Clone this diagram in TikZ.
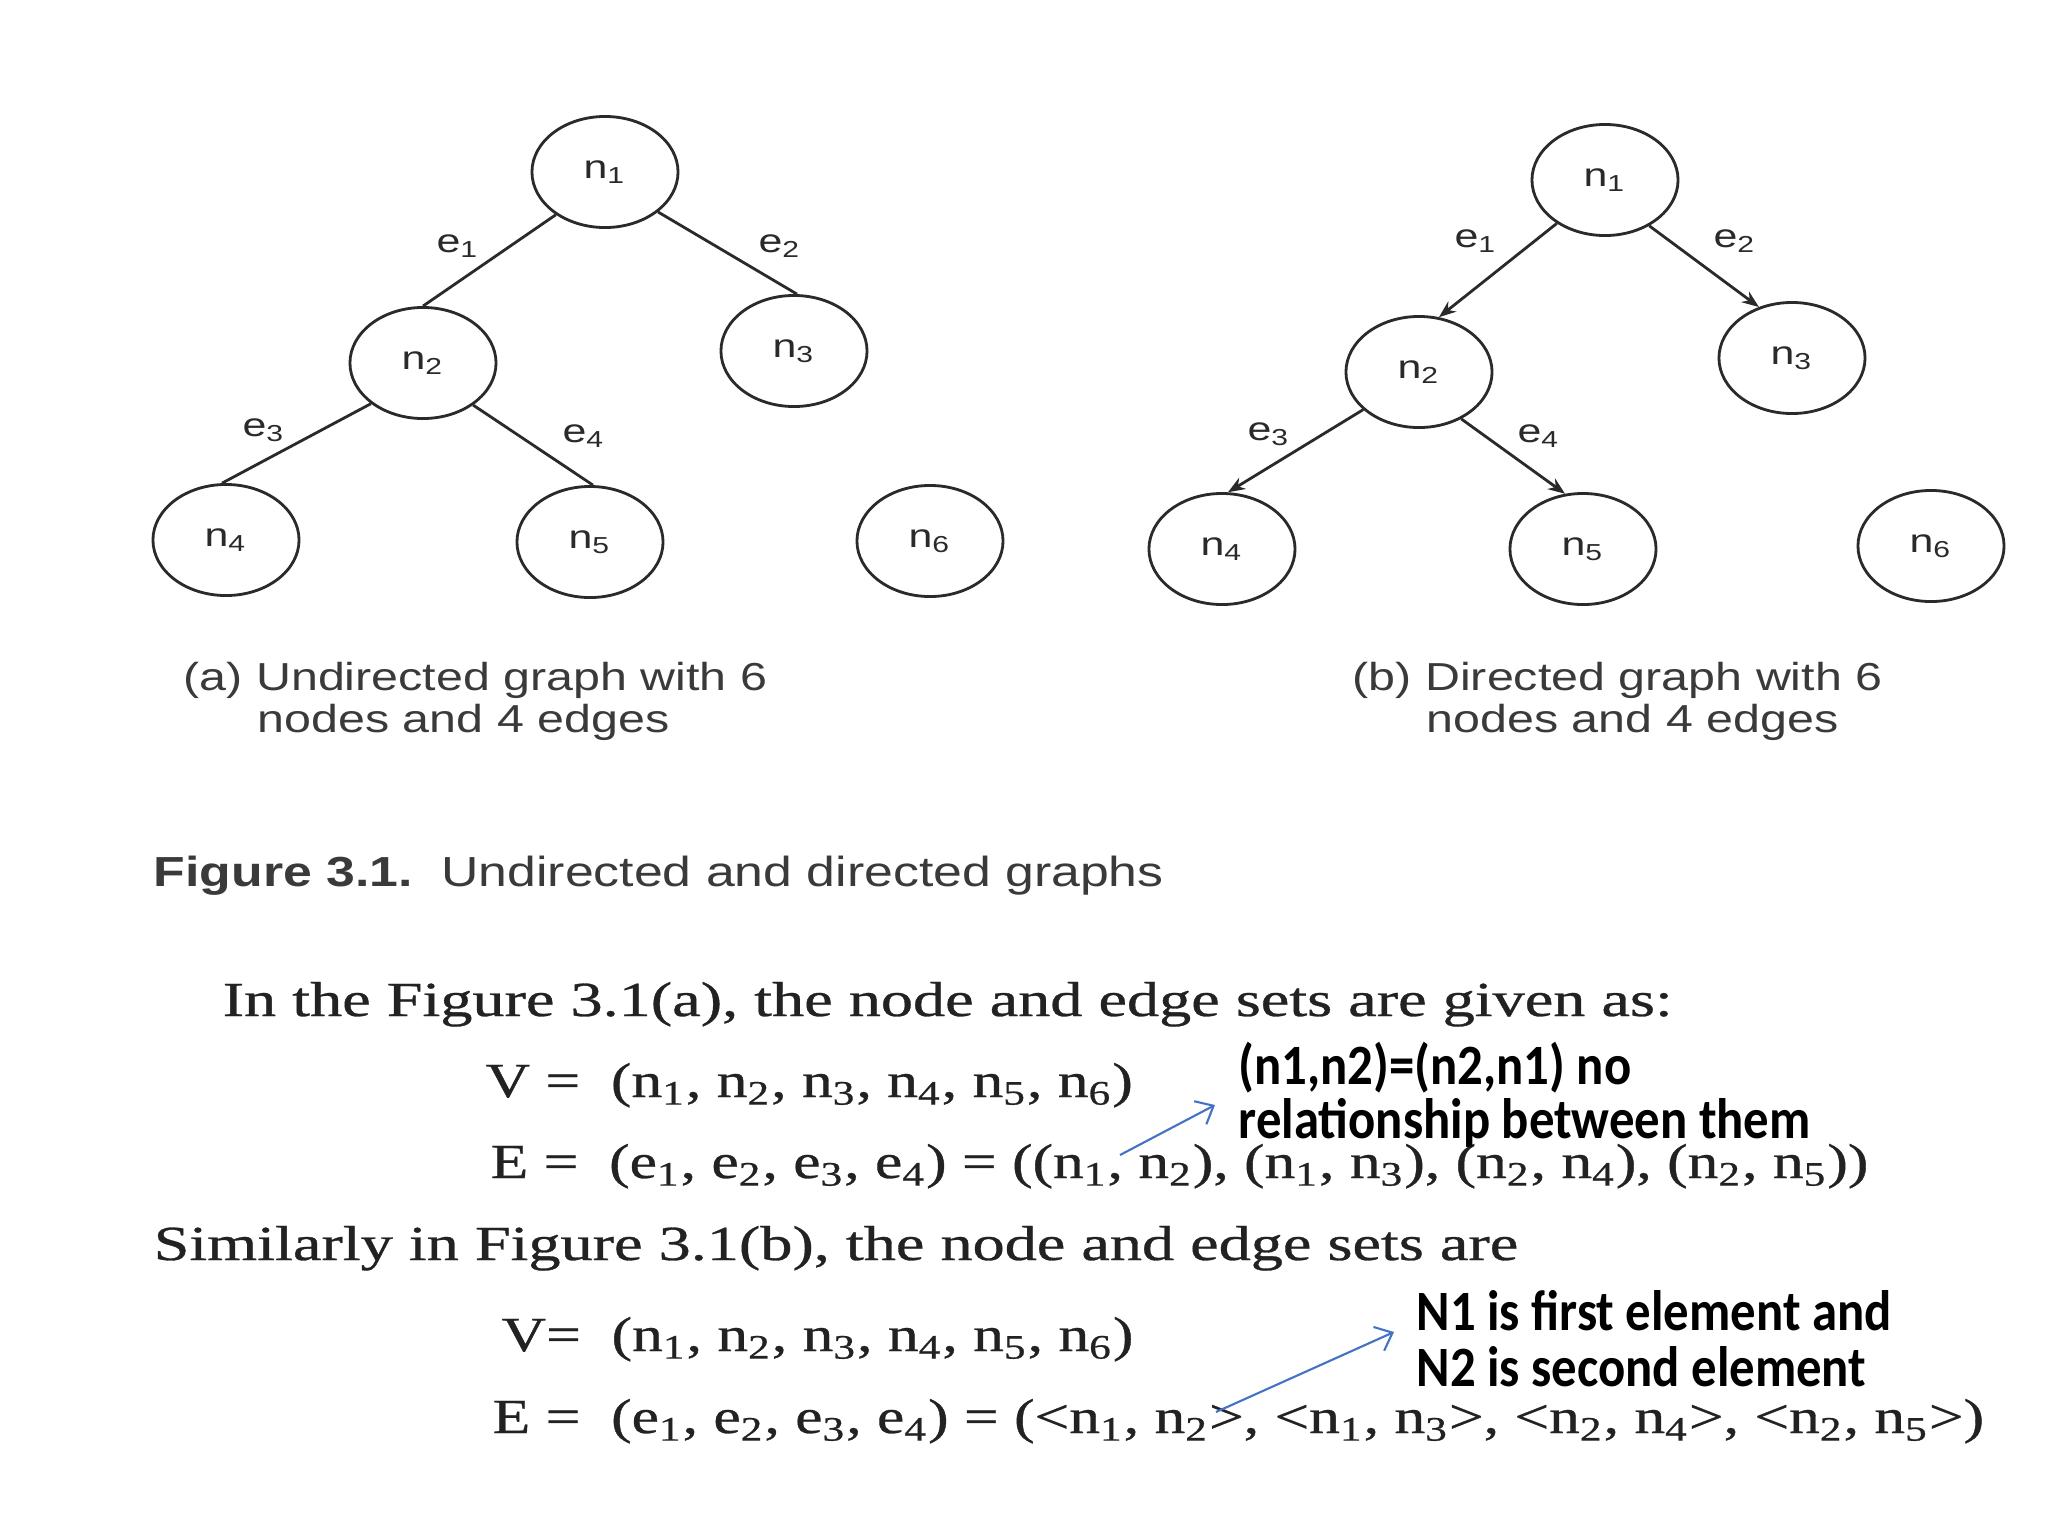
\documentclass[tikz,border=0pt]{standalone}
\usepackage{fontspec}
\setmainfont{Liberation Serif}
\newfontfamily\bodyfont[FakeBold=0.6]{Liberation Serif}
\newfontfamily\grsans{Liberation Sans}
\newfontfamily\annfont{Carlito}
\usetikzlibrary{shapes.geometric,arrows.meta}
\definecolor{ink}{HTML}{2A2A2A}
\definecolor{capink}{HTML}{3A3A3A}
\definecolor{txtink}{HTML}{222222}
\definecolor{annblue}{HTML}{4472C4}
\newcommand\fsz[1]{\fontsize{#1}{#1}\selectfont}
\newcommand\gl[2]{\scalebox{1.3}[1]{\grsans\fsz{0.33cm}#1\textsubscript{#2}}}
\newcommand\nn[1]{n\textsubscript{#1}}
\newcommand\ee[1]{e\textsubscript{#1}}
\newcommand\prose[1]{\scalebox{1.31}[1]{\bodyfont\fsz{0.49cm}#1}}
\newcommand\formula[1]{\scalebox{1.255}[1]{\bodyfont\fsz{0.49cm}#1}}
\newcommand\capline[1]{\scalebox{1.24}[1]{\grsans\fsz{0.39cm}#1}}
\newcommand\annline[1]{\scalebox{0.89}[1]{\annfont\bfseries\fsz{0.57cm}#1}}
\tikzset{
  gnode/.style={ellipse, draw=ink, line width=0.8pt, minimum width=1.46cm, minimum height=1.11cm, inner sep=0pt, text=ink},
  gedge/.style={draw=ink, line width=0.8pt},
  darrow/.style={gedge, -{Stealth[length=0.17cm,width=0.13cm]}},
  elabel/.style={inner sep=0pt, text=ink},
  txt/.style={anchor=base west, inner sep=0pt, text=txtink},
  captxt/.style={anchor=base west, inner sep=0pt, text=capink},
  anntxt/.style={anchor=base west, inner sep=0pt, text=black},
  annarrow/.style={draw=annblue, line width=0.6pt, -{Straight Barb[length=0.15cm,width=0.26cm]}}
}
\begin{document}
\begin{tikzpicture}[x=0.01cm,y=-0.01cm]
\fill[white] (0,0) rectangle (2048,1536);
\useasboundingbox (0,0) rectangle (2048,1536);
% ---- (a) undirected graph
\node[gnode] (a1) at (605,172) {\gl{n}{1}};
\node[gnode] (a2) at (423,363) {\gl{n}{2}};
\node[gnode] (a3) at (794,351) {\gl{n}{3}};
\node[gnode] (a4) at (226,540) {\gl{n}{4}};
\node[gnode] (a5) at (590,542) {\gl{n}{5}};
\node[gnode] (a6) at (930,541) {\gl{n}{6}};
\draw[gedge] (a1.221) -- (a2.90);
\draw[gedge] (a1.-37) -- (a3.87);
\draw[gedge] (a2.218) -- (a4.94);
\draw[gedge] (a2.-40) -- (a5.87);
\node[elabel] (la1) at (458,246) {\gl{e}{1}};
\node[elabel] (la2) at (780,246) {\gl{e}{2}};
\node[elabel] (la3) at (264,430) {\gl{e}{3}};
\node[elabel] (la4) at (584,436) {\gl{e}{4}};
% ---- (b) directed graph
\node[gnode] (b1) at (1605,180) {\gl{n}{1}};
\node[gnode] (b2) at (1419,372) {\gl{n}{2}};
\node[gnode] (b3) at (1792,358) {\gl{n}{3}};
\node[gnode] (b4) at (1222,549) {\gl{n}{4}};
\node[gnode] (b5) at (1583,549) {\gl{n}{5}};
\node[gnode] (b6) at (1931,546) {\gl{n}{6}};
\draw[darrow] (b1.222) -- (b2.70);
\draw[darrow] (b1.-46) -- (b3.123);
\draw[darrow] (b2.214) -- (b4.84);
\draw[darrow] (b2.-48) -- (b5.108);
\node[elabel] (lb1) at (1476,241) {\gl{e}{1}};
\node[elabel] (lb2) at (1735,241) {\gl{e}{2}};
\node[elabel] (lb3) at (1269,434) {\gl{e}{3}};
\node[elabel] (lb4) at (1539,436) {\gl{e}{4}};
% ---- captions
\node[captxt] (capa1) at (183,690) {\capline{(a) Undirected graph with 6}};
\node[captxt] (capa2) at (257,732) {\capline{nodes and 4 edges}};
\node[captxt] (capb1) at (1352,690) {\capline{(b) Directed graph with 6}};
\node[captxt] (capb2) at (1426,732) {\capline{nodes and 4 edges}};
\node[captxt] (figcap) at (153,886) {\scalebox{1.232}[1]{\grsans\fsz{0.42cm}\textbf{Figure 3.1.}\ \ Undirected and directed graphs}};
% ---- body text
\node[txt] (t1) at (222,1016) {\prose{In the Figure 3.1(a), the node and edge sets are given as:}};
\node[txt] (t2) at (485,1097) {\formula{V =\ \ (\nn1, \nn2, \nn3, \nn4, \nn5, \nn6)}};
\node[txt] (t3) at (490,1178) {\formula{E =\ \ (\ee1, \ee2, \ee3, \ee4) = ((\nn1, \nn2), (\nn1, \nn3), (\nn2, \nn4), (\nn2, \nn5))}};
\node[txt] (t4) at (153,1260) {\prose{Similarly in Figure 3.1(b), the node and edge sets are}};
\node[txt] (t5) at (501,1351) {\formula{V=\ \ (\nn1, \nn2, \nn3, \nn4, \nn5, \nn6)}};
\node[txt] (t6) at (492,1433) {\formula{E =\ \ (\ee1, \ee2, \ee3, \ee4) = (<\nn1, \nn2>, <\nn1, \nn3>, <\nn2, \nn4>, <\nn2, \nn5>)}};
% ---- annotations
\node[anntxt] (an1) at (1238,1084) {\annline{(n1,n2)=(n2,n1) no}};
\node[anntxt] (an2) at (1238,1138) {\annline{relationship between them}};
\node[anntxt] (an3) at (1416,1330) {\annline{N1 is first element and}};
\node[anntxt] (an4) at (1416,1386) {\annline{N2 is second element}};
\coordinate (ta1) at (1120,1155);
\coordinate (ha1) at (1215,1105);
\draw[annarrow] (ta1) -- (ha1);
\coordinate (ta2) at (1216,1412);
\coordinate (ha2) at (1394,1332);
\draw[annarrow] (ta2) -- (ha2);
\end{tikzpicture}
\end{document}
